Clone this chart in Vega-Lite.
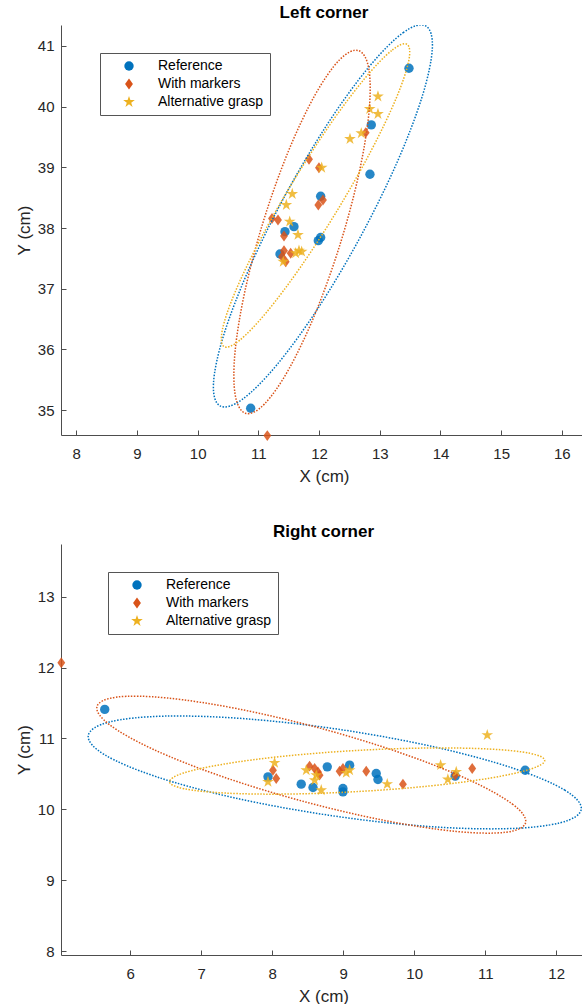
{
  "$schema": "https://vega.github.io/schema/vega-lite/v6.json",
  "background": "white",
  "padding": {"left": 15, "top": 3, "right": 0, "bottom": 0},
  "spacing": 38,
  "config": {
    "font": "Liberation Sans",
    "view": {"stroke": null},
    "axis": {
      "grid": false,
      "domainColor": "#4d4d4d",
      "tickColor": "#4d4d4d",
      "labelColor": "#262626",
      "titleColor": "#262626",
      "labelFontSize": 15,
      "titleFontSize": 17,
      "titleFontWeight": "normal",
      "tickSize": -5,
      "labelFlush": false,
      "labelOverlap": false,
      "format": "d"
    },
    "axisX": {"labelPadding": 16, "titlePadding": 7},
    "axisY": {"labelPadding": 12, "titlePadding": 4},
    "title": {"fontSize": 17, "fontWeight": "bold", "color": "#000000", "offset": 3.5, "baseline": "alphabetic", "anchor": "middle"},
    "legend": {
      "title": null,
      "orient": "none",
      "direction": "vertical",
      "strokeColor": "#555555",
      "fillColor": "white",
      "padding": 6,
      "symbolOffset": 16,
      "labelOffset": 22,
      "rowPadding": 4,
      "labelFontSize": 14,
      "labelColor": "#000000",
      "symbolOpacity": 1,
      "symbolStrokeWidth": 0,
      "labelLimit": 300
    }
  },
  "resolve": {"scale": {"color": "independent", "shape": "independent", "size": "independent", "stroke": "independent"}},
  "datasets": {
    "leftPts": [
      {"g": "Reference", "x": 13.481, "y": 40.633},
      {"g": "Reference", "x": 12.860, "y": 39.700},
      {"g": "Reference", "x": 12.838, "y": 38.886},
      {"g": "Reference", "x": 12.026, "y": 38.525},
      {"g": "Reference", "x": 11.586, "y": 38.023},
      {"g": "Reference", "x": 11.438, "y": 37.941},
      {"g": "Reference", "x": 12.026, "y": 37.845},
      {"g": "Reference", "x": 11.987, "y": 37.792},
      {"g": "Reference", "x": 11.356, "y": 37.573},
      {"g": "Reference", "x": 10.873, "y": 35.031},
      {"g": "With markers", "x": 12.768, "y": 39.572},
      {"g": "With markers", "x": 11.834, "y": 39.134},
      {"g": "With markers", "x": 11.998, "y": 38.995},
      {"g": "With markers", "x": 12.064, "y": 38.463},
      {"g": "With markers", "x": 11.987, "y": 38.381},
      {"g": "With markers", "x": 11.224, "y": 38.158},
      {"g": "With markers", "x": 11.323, "y": 38.133},
      {"g": "With markers", "x": 11.422, "y": 37.870},
      {"g": "With markers", "x": 11.422, "y": 37.628},
      {"g": "With markers", "x": 11.532, "y": 37.585},
      {"g": "With markers", "x": 11.389, "y": 37.529},
      {"g": "With markers", "x": 11.450, "y": 37.446},
      {"g": "With markers", "x": 11.147, "y": 34.580},
      {"g": "Alternative grasp", "x": 12.970, "y": 40.169},
      {"g": "Alternative grasp", "x": 12.834, "y": 39.962},
      {"g": "Alternative grasp", "x": 12.970, "y": 39.880},
      {"g": "Alternative grasp", "x": 12.509, "y": 39.468},
      {"g": "Alternative grasp", "x": 12.695, "y": 39.562},
      {"g": "Alternative grasp", "x": 12.043, "y": 38.995},
      {"g": "Alternative grasp", "x": 11.558, "y": 38.562},
      {"g": "Alternative grasp", "x": 11.460, "y": 38.381},
      {"g": "Alternative grasp", "x": 11.516, "y": 38.106},
      {"g": "Alternative grasp", "x": 11.652, "y": 37.887},
      {"g": "Alternative grasp", "x": 11.669, "y": 37.628},
      {"g": "Alternative grasp", "x": 11.614, "y": 37.585},
      {"g": "Alternative grasp", "x": 11.713, "y": 37.611},
      {"g": "Alternative grasp", "x": 11.410, "y": 37.446}
    ],
    "leftEll": [
      {"g": "Reference", "i": 0, "x": 13.757, "y": 41.331},
      {"g": "Reference", "i": 1, "x": 13.391, "y": 41.224},
      {"g": "Reference", "i": 2, "x": 12.823, "y": 40.657},
      {"g": "Reference", "i": 3, "x": 12.139, "y": 39.716},
      {"g": "Reference", "i": 4, "x": 11.443, "y": 38.543},
      {"g": "Reference", "i": 5, "x": 10.842, "y": 37.319},
      {"g": "Reference", "i": 6, "x": 10.426, "y": 36.229},
      {"g": "Reference", "i": 7, "x": 10.260, "y": 35.438},
      {"g": "Reference", "i": 8, "x": 10.368, "y": 35.069},
      {"g": "Reference", "i": 9, "x": 10.734, "y": 35.176},
      {"g": "Reference", "i": 10, "x": 11.302, "y": 35.743},
      {"g": "Reference", "i": 11, "x": 11.987, "y": 36.685},
      {"g": "Reference", "i": 12, "x": 12.682, "y": 37.857},
      {"g": "Reference", "i": 13, "x": 13.284, "y": 39.081},
      {"g": "Reference", "i": 14, "x": 13.700, "y": 40.172},
      {"g": "Reference", "i": 15, "x": 13.866, "y": 40.962},
      {"g": "With markers", "i": 0, "x": 12.650, "y": 40.924},
      {"g": "With markers", "i": 1, "x": 12.338, "y": 40.773},
      {"g": "With markers", "i": 2, "x": 11.932, "y": 40.191},
      {"g": "With markers", "i": 3, "x": 11.494, "y": 39.265},
      {"g": "With markers", "i": 4, "x": 11.090, "y": 38.137},
      {"g": "With markers", "i": 5, "x": 10.782, "y": 36.978},
      {"g": "With markers", "i": 6, "x": 10.616, "y": 35.965},
      {"g": "With markers", "i": 7, "x": 10.618, "y": 35.252},
      {"g": "With markers", "i": 8, "x": 10.788, "y": 34.948},
      {"g": "With markers", "i": 9, "x": 11.099, "y": 35.099},
      {"g": "With markers", "i": 10, "x": 11.505, "y": 35.681},
      {"g": "With markers", "i": 11, "x": 11.943, "y": 36.607},
      {"g": "With markers", "i": 12, "x": 12.347, "y": 37.735},
      {"g": "With markers", "i": 13, "x": 12.656, "y": 38.894},
      {"g": "With markers", "i": 14, "x": 12.822, "y": 39.907},
      {"g": "With markers", "i": 15, "x": 12.820, "y": 40.620},
      {"g": "Alternative grasp", "i": 0, "x": 13.450, "y": 41.027},
      {"g": "Alternative grasp", "i": 1, "x": 13.194, "y": 40.925},
      {"g": "Alternative grasp", "i": 2, "x": 12.747, "y": 40.459},
      {"g": "Alternative grasp", "i": 3, "x": 12.177, "y": 39.701},
      {"g": "Alternative grasp", "i": 4, "x": 11.572, "y": 38.766},
      {"g": "Alternative grasp", "i": 5, "x": 11.023, "y": 37.796},
      {"g": "Alternative grasp", "i": 6, "x": 10.614, "y": 36.939},
      {"g": "Alternative grasp", "i": 7, "x": 10.407, "y": 36.325},
      {"g": "Alternative grasp", "i": 8, "x": 10.433, "y": 36.047},
      {"g": "Alternative grasp", "i": 9, "x": 10.689, "y": 36.149},
      {"g": "Alternative grasp", "i": 10, "x": 11.136, "y": 36.615},
      {"g": "Alternative grasp", "i": 11, "x": 11.705, "y": 37.373},
      {"g": "Alternative grasp", "i": 12, "x": 12.310, "y": 38.308},
      {"g": "Alternative grasp", "i": 13, "x": 12.859, "y": 39.278},
      {"g": "Alternative grasp", "i": 14, "x": 13.269, "y": 40.136},
      {"g": "Alternative grasp", "i": 15, "x": 13.476, "y": 40.750}
    ],
    "rightPts": [
      {"g": "Reference", "x": 5.640, "y": 11.410},
      {"g": "Reference", "x": 7.940, "y": 10.458},
      {"g": "Reference", "x": 8.408, "y": 10.355},
      {"g": "Reference", "x": 8.574, "y": 10.308},
      {"g": "Reference", "x": 8.775, "y": 10.599},
      {"g": "Reference", "x": 9.090, "y": 10.623},
      {"g": "Reference", "x": 8.996, "y": 10.294},
      {"g": "Reference", "x": 8.996, "y": 10.246},
      {"g": "Reference", "x": 9.465, "y": 10.506},
      {"g": "Reference", "x": 9.489, "y": 10.421},
      {"g": "Reference", "x": 10.577, "y": 10.468},
      {"g": "Reference", "x": 11.563, "y": 10.552},
      {"g": "With markers", "x": 5.028, "y": 12.068},
      {"g": "With markers", "x": 8.010, "y": 10.552},
      {"g": "With markers", "x": 8.056, "y": 10.435},
      {"g": "With markers", "x": 8.526, "y": 10.609},
      {"g": "With markers", "x": 8.597, "y": 10.576},
      {"g": "With markers", "x": 8.644, "y": 10.528},
      {"g": "With markers", "x": 8.667, "y": 10.482},
      {"g": "With markers", "x": 8.949, "y": 10.538},
      {"g": "With markers", "x": 8.996, "y": 10.576},
      {"g": "With markers", "x": 9.324, "y": 10.538},
      {"g": "With markers", "x": 9.841, "y": 10.355},
      {"g": "With markers", "x": 10.577, "y": 10.482},
      {"g": "With markers", "x": 10.817, "y": 10.576},
      {"g": "Alternative grasp", "x": 8.033, "y": 10.655},
      {"g": "Alternative grasp", "x": 7.940, "y": 10.387},
      {"g": "Alternative grasp", "x": 8.479, "y": 10.552},
      {"g": "Alternative grasp", "x": 8.620, "y": 10.482},
      {"g": "Alternative grasp", "x": 8.690, "y": 10.270},
      {"g": "Alternative grasp", "x": 8.597, "y": 10.410},
      {"g": "Alternative grasp", "x": 9.042, "y": 10.514},
      {"g": "Alternative grasp", "x": 9.090, "y": 10.552},
      {"g": "Alternative grasp", "x": 9.620, "y": 10.355},
      {"g": "Alternative grasp", "x": 10.372, "y": 10.623},
      {"g": "Alternative grasp", "x": 10.474, "y": 10.421},
      {"g": "Alternative grasp", "x": 10.592, "y": 10.528},
      {"g": "Alternative grasp", "x": 11.029, "y": 11.047}
    ],
    "rightEll": [
      {"g": "Reference", "i": 0, "x": 12.353, "y": 10.000},
      {"g": "Reference", "i": 1, "x": 12.122, "y": 10.270},
      {"g": "Reference", "i": 2, "x": 11.397, "y": 10.579},
      {"g": "Reference", "i": 3, "x": 10.290, "y": 10.879},
      {"g": "Reference", "i": 4, "x": 8.968, "y": 11.124},
      {"g": "Reference", "i": 5, "x": 7.632, "y": 11.277},
      {"g": "Reference", "i": 6, "x": 6.487, "y": 11.315},
      {"g": "Reference", "i": 7, "x": 5.706, "y": 11.232},
      {"g": "Reference", "i": 8, "x": 5.408, "y": 11.040},
      {"g": "Reference", "i": 9, "x": 5.639, "y": 10.770},
      {"g": "Reference", "i": 10, "x": 6.363, "y": 10.461},
      {"g": "Reference", "i": 11, "x": 7.470, "y": 10.161},
      {"g": "Reference", "i": 12, "x": 8.793, "y": 9.917},
      {"g": "Reference", "i": 13, "x": 10.128, "y": 9.763},
      {"g": "Reference", "i": 14, "x": 11.273, "y": 9.726},
      {"g": "Reference", "i": 15, "x": 12.055, "y": 9.809},
      {"g": "With markers", "i": 0, "x": 11.569, "y": 9.810},
      {"g": "With markers", "i": 1, "x": 11.391, "y": 10.068},
      {"g": "With markers", "i": 2, "x": 10.780, "y": 10.412},
      {"g": "With markers", "i": 3, "x": 9.831, "y": 10.789},
      {"g": "With markers", "i": 4, "x": 8.685, "y": 11.142},
      {"g": "With markers", "i": 5, "x": 7.520, "y": 11.417},
      {"g": "With markers", "i": 6, "x": 6.511, "y": 11.572},
      {"g": "With markers", "i": 7, "x": 5.813, "y": 11.584},
      {"g": "With markers", "i": 8, "x": 5.531, "y": 11.450},
      {"g": "With markers", "i": 9, "x": 5.710, "y": 11.192},
      {"g": "With markers", "i": 10, "x": 6.320, "y": 10.848},
      {"g": "With markers", "i": 11, "x": 7.269, "y": 10.471},
      {"g": "With markers", "i": 12, "x": 8.415, "y": 10.118},
      {"g": "With markers", "i": 13, "x": 9.580, "y": 9.843},
      {"g": "With markers", "i": 14, "x": 10.589, "y": 9.688},
      {"g": "With markers", "i": 15, "x": 11.288, "y": 9.676},
      {"g": "Alternative grasp", "i": 0, "x": 11.838, "y": 10.691},
      {"g": "Alternative grasp", "i": 1, "x": 11.631, "y": 10.790},
      {"g": "Alternative grasp", "i": 2, "x": 11.053, "y": 10.851},
      {"g": "Alternative grasp", "i": 3, "x": 10.193, "y": 10.865},
      {"g": "Alternative grasp", "i": 4, "x": 9.180, "y": 10.830},
      {"g": "Alternative grasp", "i": 5, "x": 8.169, "y": 10.750},
      {"g": "Alternative grasp", "i": 6, "x": 7.317, "y": 10.638},
      {"g": "Alternative grasp", "i": 7, "x": 6.749, "y": 10.512},
      {"g": "Alternative grasp", "i": 8, "x": 6.553, "y": 10.389},
      {"g": "Alternative grasp", "i": 9, "x": 6.761, "y": 10.290},
      {"g": "Alternative grasp", "i": 10, "x": 7.339, "y": 10.229},
      {"g": "Alternative grasp", "i": 11, "x": 8.200, "y": 10.215},
      {"g": "Alternative grasp", "i": 12, "x": 9.212, "y": 10.251},
      {"g": "Alternative grasp", "i": 13, "x": 10.222, "y": 10.330},
      {"g": "Alternative grasp", "i": 14, "x": 11.076, "y": 10.442},
      {"g": "Alternative grasp", "i": 15, "x": 11.643, "y": 10.569}
    ]
  },
  "vconcat": [
    {
      "width": 526,
      "height": 410,
      "title": "Left corner",
      "layer": [
        {
          "data": {"name": "leftPts"},
          "mark": {"type": "point", "filled": true, "opacity": 0.85, "strokeWidth": 0},
          "encoding": {
            "x": {"field": "x", "type": "quantitative", "scale": {"domain": [7.748, 16.414], "nice": false, "zero": false}, "axis": {"title": "X (cm)", "values": [8, 9, 10, 11, 12, 13, 14, 15, 16]}},
            "y": {"field": "y", "type": "quantitative", "scale": {"domain": [34.59, 41.346], "nice": false, "zero": false}, "axis": {"title": "Y (cm)", "values": [35, 36, 37, 38, 39, 40, 41]}},
            "color": {"field": "g", "type": "nominal", "scale": {"domain": ["Reference", "With markers", "Alternative grasp"], "range": ["#0072BD", "#D95319", "#EDB120"]}, "legend": {"legendX": 39, "legendY": 28}},
            "shape": {"field": "g", "type": "nominal", "scale": {"domain": ["Reference", "With markers", "Alternative grasp"], "range": ["circle", "M0,-1L0.72,0L0,1L-0.72,0Z", "M0,-1L0.225,-0.309L0.951,-0.309L0.363,0.118L0.588,0.809L0,0.382L-0.588,0.809L-0.363,0.118L-0.951,-0.309L-0.225,-0.309Z"]}},
            "size": {"field": "g", "type": "nominal", "scale": {"domain": ["Reference", "With markers", "Alternative grasp"], "range": [88, 150, 150]}}
          }
        },
        {
          "data": {"name": "leftEll"},
          "mark": {"type": "line", "interpolate": "cardinal-closed", "strokeDash": [1.5, 1.5], "strokeWidth": 1.5, "clip": true},
          "encoding": {
            "x": {"field": "x", "type": "quantitative"},
            "y": {"field": "y", "type": "quantitative"},
            "stroke": {"field": "g", "type": "nominal", "scale": {"domain": ["Reference", "With markers", "Alternative grasp"], "range": ["#0072BD", "#D95319", "#EDB120"]}, "legend": null},
            "order": {"field": "i", "type": "quantitative"}
          }
        }
      ]
    },
    {
      "width": 525,
      "height": 411,
      "title": "Right corner",
      "layer": [
        {
          "data": {"name": "rightPts"},
          "mark": {"type": "point", "filled": true, "opacity": 0.85, "strokeWidth": 0},
          "encoding": {
            "x": {"field": "x", "type": "quantitative", "scale": {"domain": [5.024, 12.42], "nice": false, "zero": false}, "axis": {"title": "X (cm)", "values": [6, 7, 8, 9, 10, 11, 12]}},
            "y": {"field": "y", "type": "quantitative", "scale": {"domain": [7.944, 13.744], "nice": false, "zero": false}, "axis": {"title": "Y (cm)", "values": [8, 9, 10, 11, 12, 13]}},
            "color": {"field": "g", "type": "nominal", "scale": {"domain": ["Reference", "With markers", "Alternative grasp"], "range": ["#0072BD", "#D95319", "#EDB120"]}, "legend": {"legendX": 47, "legendY": 28}},
            "shape": {"field": "g", "type": "nominal", "scale": {"domain": ["Reference", "With markers", "Alternative grasp"], "range": ["circle", "M0,-1L0.72,0L0,1L-0.72,0Z", "M0,-1L0.225,-0.309L0.951,-0.309L0.363,0.118L0.588,0.809L0,0.382L-0.588,0.809L-0.363,0.118L-0.951,-0.309L-0.225,-0.309Z"]}},
            "size": {"field": "g", "type": "nominal", "scale": {"domain": ["Reference", "With markers", "Alternative grasp"], "range": [88, 150, 150]}}
          }
        },
        {
          "data": {"name": "rightEll"},
          "mark": {"type": "line", "interpolate": "cardinal-closed", "strokeDash": [1.5, 1.5], "strokeWidth": 1.5, "clip": true},
          "encoding": {
            "x": {"field": "x", "type": "quantitative"},
            "y": {"field": "y", "type": "quantitative"},
            "stroke": {"field": "g", "type": "nominal", "scale": {"domain": ["Reference", "With markers", "Alternative grasp"], "range": ["#0072BD", "#D95319", "#EDB120"]}, "legend": null},
            "order": {"field": "i", "type": "quantitative"}
          }
        }
      ]
    }
  ]
}
